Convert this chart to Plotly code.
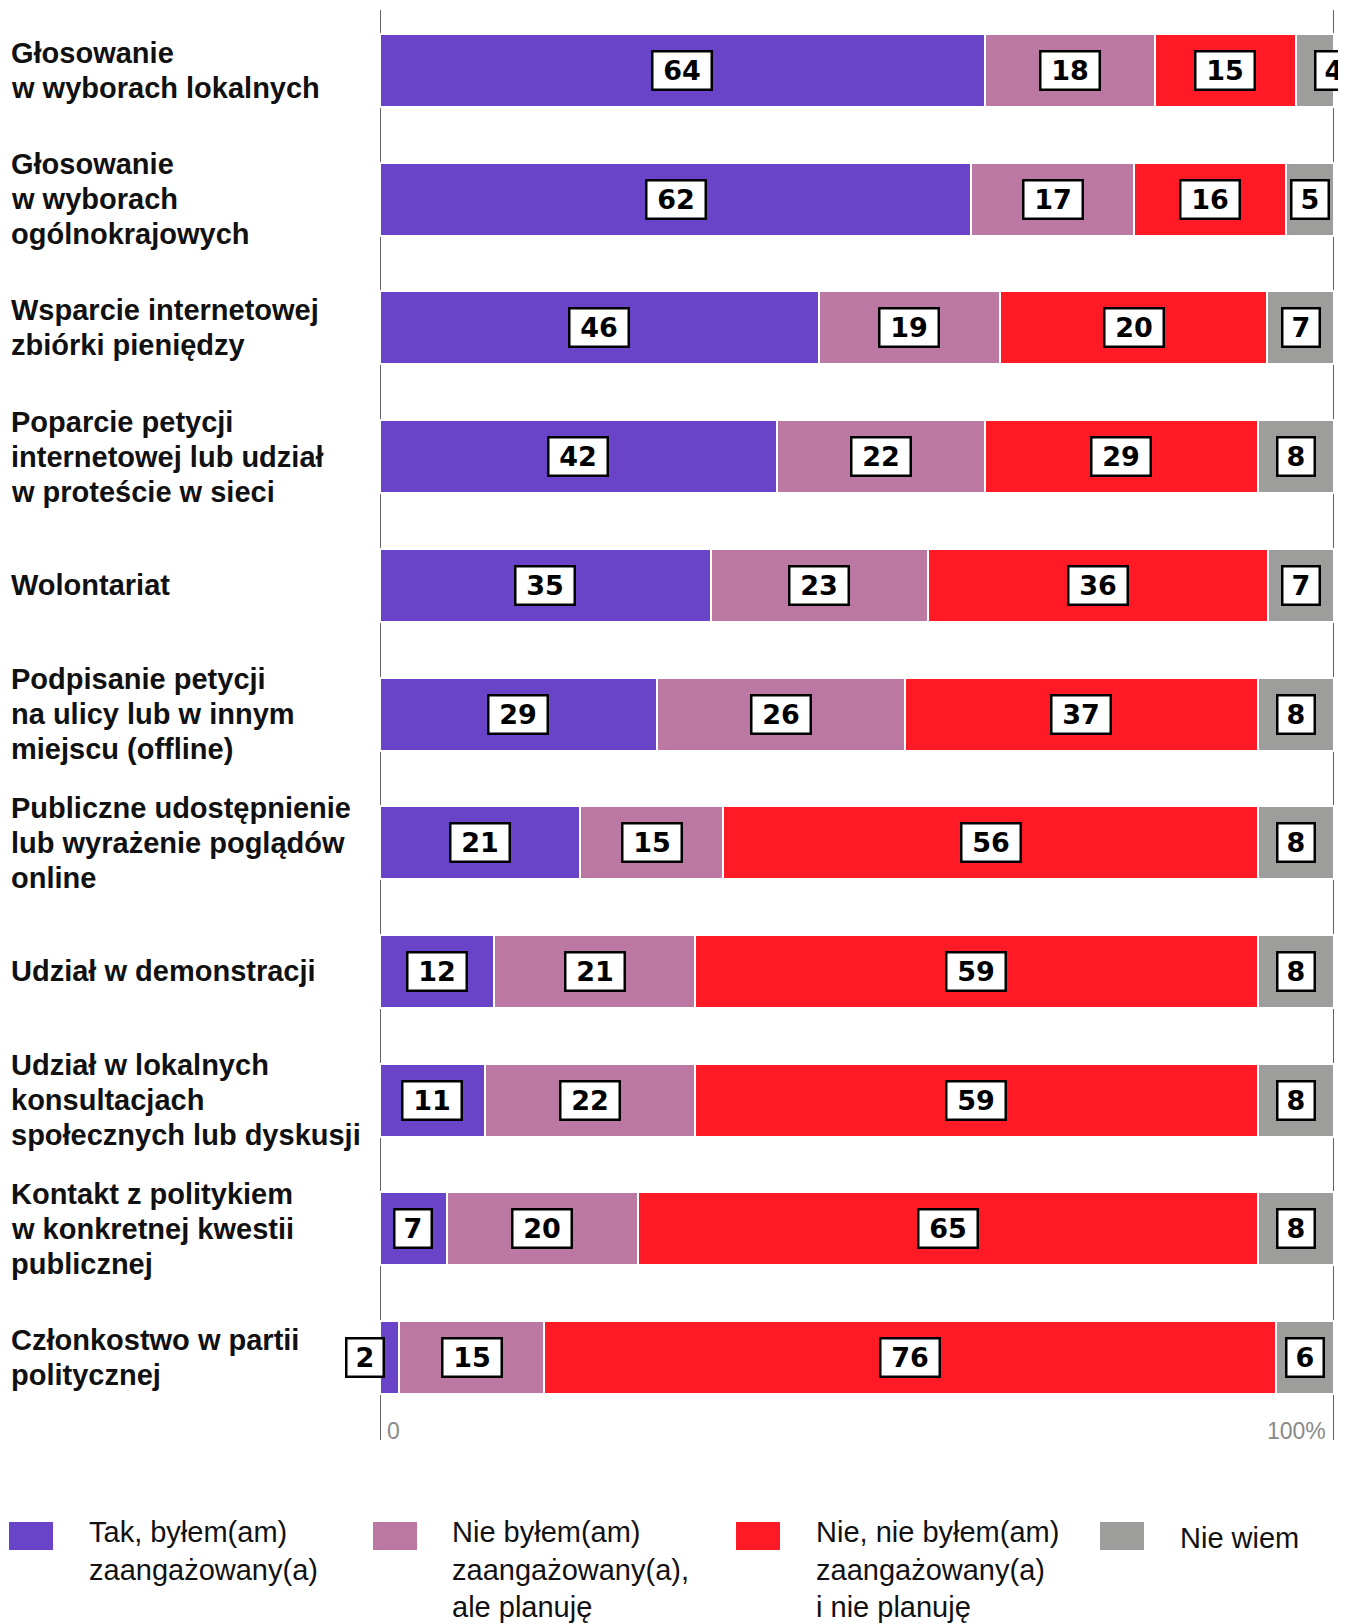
import plotly.graph_objects as go

categories = [
    "Głosowanie<br>w wyborach lokalnych",
    "Głosowanie<br>w wyborach<br>ogólnokrajowych",
    "Wsparcie internetowej<br>zbiórki pieniędzy",
    "Poparcie petycji<br>internetowej lub udział<br>w proteście w sieci",
    "Wolontariat",
    "Podpisanie petycji<br>na ulicy lub w innym<br>miejscu (offline)",
    "Publiczne udostępnienie<br>lub wyrażenie poglądów<br>online",
    "Udział w demonstracji",
    "Udział w lokalnych<br>konsultacjach<br>społecznych lub dyskusji",
    "Kontakt z politykiem<br>w konkretnej kwestii<br>publicznej",
    "Członkostwo w partii<br>politycznej",
]

series_names = [
    "Tak, byłem(am)<br>zaangażowany(a)",
    "Nie byłem(am)<br>zaangażowany(a),<br>ale planuję",
    "Nie, nie byłem(am)<br>zaangażowany(a)<br>i nie planuję",
    "Nie wiem",
]

tak = [64, 62, 46, 42, 35, 29, 21, 12, 11, 7, 2]
planuje = [18, 17, 19, 22, 23, 26, 15, 21, 22, 20, 15]
nie_planuje = [15, 16, 28, 29, 36, 37, 56, 59, 59, 65, 76]
nie_wiem = [4, 5, 7, 8, 7, 8, 8, 8, 8, 8, 6]

# printed label differs from drawn width in the source for one segment
label_override = {(2, 2): "20"}

colors = ["#6944C8", "#BB78A2", "#FF1A26", "#9D9D9C"]

OFF = 8  # page body margin
W, H = 1346, 1624
ML, MT = 380 - OFF, 10 - OFF
PW, PH = 954, 1430
MR = W - ML - PW
MB = H - MT - PH


def px_x(x):
    return (x - OFF - ML) / PW


def px_y(y):
    return (MT + PH - (y - OFF)) / PH


series = [tak, planuje, nie_planuje, nie_wiem]
idx = list(range(len(categories)))
totals = [sum(s[i] for s in series) for i in idx]
shares = [[s[i] / totals[i] * 100 for i in idx] for s in series]

fig = go.Figure()
for name, vals, col in zip(series_names, shares, colors):
    fig.add_trace(go.Bar(
        y=idx, x=vals, orientation="h", name=name,
        marker=dict(color=col, line=dict(color="white", width=2)),
        width=0.567, showlegend=False, hoverinfo="skip",
    ))

annotations = []
# value boxes
label_shift = {(0, 3): 19, (10, 0): -25}
for i in idx:
    start = 0
    for s, vals in enumerate(series):
        share = shares[s][i]
        center = start + share / 2
        txt = label_override.get((i, s), str(vals[i]))
        annotations.append(dict(
            x=center, y=i, xref="x", yref="y", text=txt, showarrow=False,
            font=dict(family="DejaVu Sans", size=27, color="black", weight="bold"),
            bgcolor="white", bordercolor="black", borderwidth=2.5, borderpad=2.5,
            width=22 * len(txt) + 8, align="center",
            xshift=label_shift.get((i, s), 0),
        ))
        start += share

# category labels (left aligned, one annotation per line)
line_gap = 35
for i, cat in enumerate(categories):
    lines = cat.split("<br>")
    n = len(lines)
    for k, ln in enumerate(lines):
        annotations.append(dict(
            x=px_x(9), xref="paper", y=i, yref="y", text=ln,
            showarrow=False, xanchor="left", yanchor="middle", align="left",
            yshift=-(k - (n - 1) / 2) * line_gap,
            font=dict(family="Liberation Sans", size=29, color="#111", weight="bold"),
        ))

# axis end labels
annotations.append(dict(x=0, xref="x", y=px_y(1431), yref="paper", text="0",
                        showarrow=False, xanchor="left", yanchor="middle", xshift=5,
                        font=dict(family="Liberation Sans", size=23, color="#8a8a8a")))
annotations.append(dict(x=100, xref="x", y=px_y(1431), yref="paper", text="100%",
                        showarrow=False, xanchor="right", yanchor="middle", xshift=-6,
                        font=dict(family="Liberation Sans", size=23, color="#8a8a8a")))

shapes = []
# vertical reference lines at 0 and 100 (behind the bars)
for xv in (0, 100):
    shapes.append(dict(type="line", xref="x", yref="paper", x0=xv, x1=xv, y0=0, y1=1,
                       layer="below", line=dict(color="#3a3a3a", width=1.6)))

# legend (manual)
sq_x = [9, 373, 736, 1100]
tx_x = [87, 450, 814, 1178]
for name, col, sx, tx in zip(series_names, colors, sq_x, tx_x):
    shapes.append(dict(type="rect", xref="paper", yref="paper",
                       x0=px_x(sx), x1=px_x(sx + 44), y0=px_y(1550), y1=px_y(1522),
                       fillcolor=col, line=dict(width=0)))
    single = "<br>" not in name
    annotations.append(dict(x=px_x(tx), xref="paper",
                            y=px_y(1538) if single else px_y(1514), yref="paper",
                            text=name, showarrow=False, xanchor="left",
                            yanchor="middle" if single else "top",
                            align="left",
                            font=dict(family="Liberation Sans", size=29, color="#111")))

fig.update_layout(
    width=W, height=H,
    margin=dict(l=ML, r=MR, t=MT, b=MB),
    barmode="stack",
    plot_bgcolor="white", paper_bgcolor="white",
    xaxis=dict(range=[0, 100], showticklabels=False, showgrid=False,
               zeroline=False, showline=False, ticks=""),
    yaxis=dict(range=[10.64, -0.47], showticklabels=False, showgrid=False,
               zeroline=False, showline=False, ticks=""),
    annotations=annotations,
    shapes=shapes,
)

fig.write_html("out.html")
